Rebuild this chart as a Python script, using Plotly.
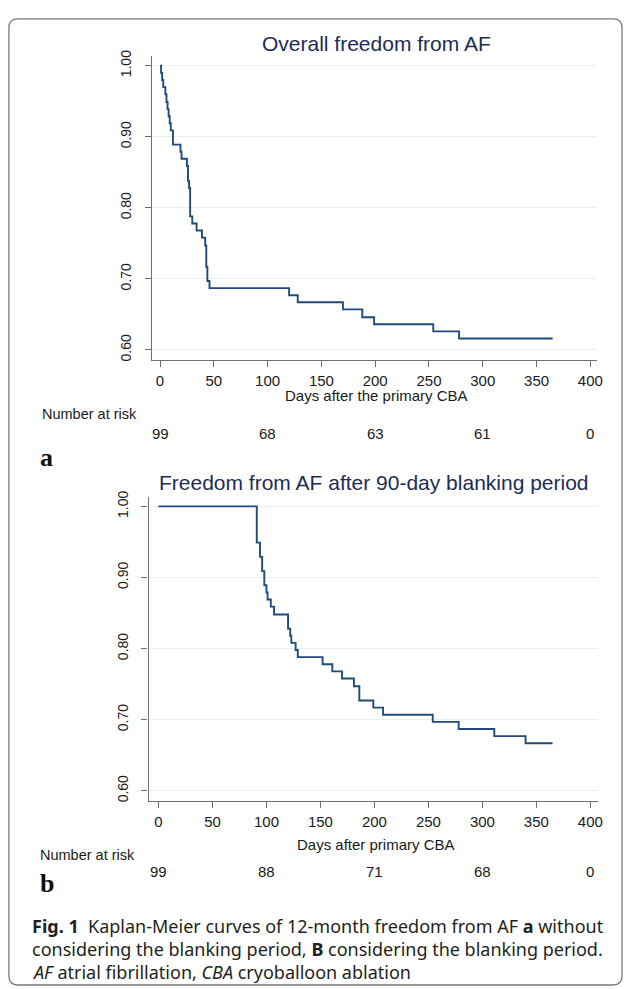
import plotly.graph_objects as go

W, H = 630, 989

# ---------------- data ----------------
top_days = [0, 1, 2, 3, 5, 6, 7, 8, 9, 10, 12, 19, 20, 25, 26, 27, 28, 30, 34, 39,
            42, 43, 44, 46, 120, 128, 170, 188, 199, 254, 278, 365]
top_surv = [1.000, 0.990, 0.980, 0.970, 0.960, 0.949, 0.939, 0.929, 0.919, 0.909,
            0.889, 0.879, 0.869, 0.859, 0.838, 0.828, 0.788, 0.778, 0.768, 0.758,
            0.747, 0.717, 0.697, 0.687, 0.677, 0.667, 0.657, 0.646, 0.636, 0.626,
            0.616, 0.616]

bot_days = [0, 91, 94, 96, 98, 100, 101, 104, 107, 120, 122, 123, 127, 129, 152,
            161, 170, 181, 186, 199, 208, 254, 278, 311, 340, 365]
bot_surv = [1.000, 0.949, 0.929, 0.909, 0.889, 0.879, 0.869, 0.859, 0.848, 0.828,
            0.818, 0.808, 0.798, 0.788, 0.778, 0.768, 0.758, 0.747, 0.727, 0.717,
            0.707, 0.697, 0.687, 0.677, 0.667, 0.667]

risk_days = [0, 100, 200, 300, 400]
top_risk = [99, 68, 63, 61, 0]
bot_risk = [99, 88, 71, 68, 0]

x_ticks = [0, 50, 100, 150, 200, 250, 300, 350, 400]
y_ticks = [0.60, 0.70, 0.80, 0.90, 1.00]
y_tick_labels = ["0.60", "0.70", "0.80", "0.90", "1.00"]

top_title = "Overall freedom from AF"
bot_title = "Freedom from AF after 90-day blanking period"
top_xtitle = "Days after the primary CBA"
bot_xtitle = "Days after primary CBA"

# ---------------- style ----------------
LINE = "#1f4b7a"
AXIS = "#6f6f6f"
GRID = "#e6eff2"
TXT = "#1a1a1a"
NAVY = "#1c2d55"
FONT = "Liberation Sans, Arial, sans-serif"


def px_x(p):
    return p / W


def px_y(p):
    return 1 - p / H


fig = go.Figure()
fig.add_trace(go.Scatter(x=top_days, y=top_surv, mode="lines", line_shape="hv",
                         line=dict(color=LINE, width=1.9), xaxis="x", yaxis="y",
                         showlegend=False, hoverinfo="skip"))
fig.add_trace(go.Scatter(x=bot_days, y=bot_surv, mode="lines", line_shape="hv",
                         line=dict(color=LINE, width=1.9), xaxis="x2", yaxis="y2",
                         showlegend=False, hoverinfo="skip"))

xcommon = dict(tickvals=x_ticks, ticks="outside", ticklen=6, tickcolor=AXIS, tickwidth=1.2,
               showline=True, linecolor=AXIS, linewidth=1.3, showgrid=False, zeroline=False,
               tickfont=dict(family=FONT, size=15, color=TXT), ticklabelstandoff=1)
ycommon = dict(tickvals=y_ticks, ticktext=y_tick_labels, ticks="outside", ticklen=6,
               tickcolor=AXIS, tickwidth=1.2, showline=True, linecolor=AXIS, linewidth=1.3,
               showgrid=True, gridcolor=GRID, gridwidth=1.3, zeroline=False, tickangle=-90,
               tickfont=dict(family=FONT, size=14, color=TXT), ticklabelstandoff=8)

fig.update_layout(
    width=W, height=H, margin=dict(l=0, r=0, t=0, b=0),
    paper_bgcolor="white", plot_bgcolor="white",
    xaxis=dict(domain=[px_x(153.3), px_x(603)], range=[-7.6, 406.4], anchor="y", **xcommon),
    yaxis=dict(domain=[px_y(356), px_y(49)], range=[0.5861, 1.0144], anchor="x", **ycommon),
    xaxis2=dict(domain=[px_x(150), px_x(604)], range=[-9.2, 407.3], anchor="y2", **xcommon),
    yaxis2=dict(domain=[px_y(801), px_y(495)], range=[0.5861, 1.0125], anchor="x2", **ycommon),
)

ann = []


def text(x, y, s, size, color=TXT, family=FONT, xanchor="center", xref="paper"):
    ann.append(dict(x=x, y=px_y(y), xref=xref, yref="paper", text=s, showarrow=False,
                    xanchor=xanchor, yanchor="middle",
                    font=dict(family=family, size=size, color=color)))


text(px_x(380), 37, top_title, 21, NAVY)
text(px_x(378), 480, bot_title, 21, NAVY)
text(px_x(380), 392, top_xtitle, 15)
text(px_x(380), 845, bot_xtitle, 15)
text(px_x(40), 411, "Number at risk", 14.5, xanchor="left")
text(px_x(38), 856, "Number at risk", 14.5, xanchor="left")
for d, n in zip(risk_days, top_risk):
    ann.append(dict(x=d, y=px_y(430), xref="x", yref="paper", text=str(n), showarrow=False,
                    xanchor="center", yanchor="middle", font=dict(family=FONT, size=15, color=TXT)))
for d, n in zip(risk_days, bot_risk):
    ann.append(dict(x=d, y=px_y(872), xref="x2", yref="paper", text=str(n), showarrow=False,
                    xanchor="center", yanchor="middle", font=dict(family=FONT, size=15, color=TXT)))

SERIF = "Liberation Serif, Times New Roman, serif"
text(px_x(38), 455, "<b>a</b>", 26, "#111", SERIF, xanchor="left")
text(px_x(38), 885, "<b>b</b>", 26, "#111", SERIF, xanchor="left")

CAP = "Noto Sans, Open Sans, sans-serif"
cap_lines = [
    "<b>Fig. 1</b>  Kaplan-Meier curves of 12-month freedom from AF <b>a</b> without",
    "considering the blanking period, <b>B</b> considering the blanking period.",
    "<i>AF</i> atrial fibrillation, <i>CBA</i> cryoballoon ablation",
]
for i, s in enumerate(cap_lines):
    text(px_x(30), 927 + i * 23.5, s, 18, "#231f20", CAP, xanchor="left")

fig.update_layout(annotations=ann)

# rounded frame around the figure
x0, x1, y0, y1, r = px_x(9), px_x(628), px_y(12), px_y(987), 9
rx, ry = r / W, r / H
path = (f"M {x0},{y0 - ry} Q {x0},{y0} {x0 + rx},{y0} L {x1 - rx},{y0} Q {x1},{y0} {x1},{y0 - ry} "
        f"L {x1},{y1 + ry} Q {x1},{y1} {x1 - rx},{y1} L {x0 + rx},{y1} Q {x0},{y1} {x0},{y1 + ry} Z")
fig.add_shape(type="path", path=path, xref="paper", yref="paper",
              line=dict(color="#7a7a7a", width=1.3))

fig.write_html("out.html",
               config={"displayModeBar": False},
               post_script="document.body.style.margin='0';document.body.style.padding='0';"
                           "document.body.style.overflow='hidden';")
